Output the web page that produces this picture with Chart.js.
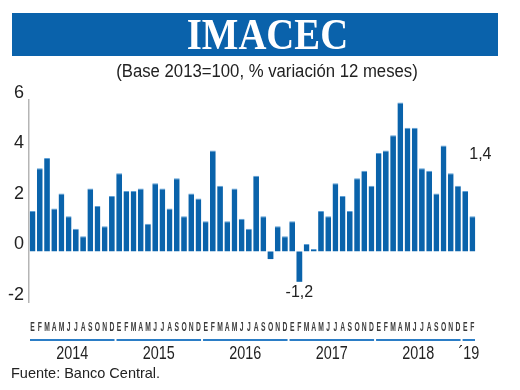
<!DOCTYPE html>
<html>
<head>
<meta charset="utf-8">
<script src="https://cdn.jsdelivr.net/npm/chart.js@4.4.1/dist/chart.umd.min.js"></script>
<style>
  html, body { margin: 0; padding: 0; background: #fff; }
  #wrap { position: relative; width: 520px; height: 390px; overflow: hidden; background: #fff; }
  #c { position: absolute; left: 0; top: 0; }
  #banner { position: absolute; left: 12px; top: 13px; width: 486px; height: 43px; background: #0a62ab; }
  #banner span { position: absolute; left: 0; width: 508px; top: -3px; text-align: center; color: #fff;
    font-family: "Liberation Serif", "DejaVu Serif", serif; font-weight: bold; font-size: 44px; line-height: 50px;
    transform: scaleX(0.88); transform-origin: 266px 0; }
  #sub { position: absolute; left: 0; width: 534px; top: 60px; text-align: center; color: #222;
    font-family: "Liberation Sans", Arial, sans-serif; font-size: 17.5px; line-height: 22px;
    transform: scaleX(0.955); transform-origin: 267px 0; }
  #src { position: absolute; left: 11px; top: 364px; color: #222;
    font-family: "Liberation Sans", Arial, sans-serif; font-size: 14.5px; line-height: 18px; }
</style>
</head>
<body>
<div id="wrap">
  <canvas id="c" width="520" height="390"></canvas>
  <div id="banner"><span>IMACEC</span></div>
  <div id="sub">(Base 2013=100, % variación 12 meses)</div>
  <div id="src">Fuente: Banco Central.</div>
</div>
<script>
const monthLetters = ['E','F','M','A','M','J','J','A','S','O','N','D'];
const yearLabels = ['2014','2015','2016','2017','2018','\u00B419'];
const monthsPerYear = [12, 12, 12, 12, 12, 2];
const values2014 = [1.6, 3.3, 3.7, 1.7, 2.3, 1.4, 0.9, 0.6, 2.5, 1.8, 1.0, 2.2];
const values2015 = [3.1, 2.4, 2.4, 2.5, 1.1, 2.7, 2.5, 1.7, 2.9, 1.4, 2.3, 2.1];
const values2016 = [1.2, 4.0, 2.6, 1.2, 2.5, 1.3, 0.9, 3.0, 1.4, -0.3, 1.0, 0.6];
const values2017 = [1.2, -1.2, 0.3, 0.1, 1.6, 1.4, 2.7, 2.2, 1.6, 2.9, 3.2, 2.6];
const values2018 = [3.9, 4.0, 4.6, 5.9, 4.9, 4.9, 3.3, 3.2, 2.3, 4.2, 3.1, 2.6];
const values2019 = [2.4, 1.4];
const yTicks = [-2, 0, 2, 4, 6];
const annotations = [ { index: 37, text: '-1,2', where: 'below' }, { index: 61, text: '1,4', where: 'above' } ];

const values = [].concat(values2014, values2015, values2016, values2017, values2018, values2019);
const labels = [];
monthsPerYear.forEach((n, yi) => { for (let m = 0; m < n; m++) labels.push(monthLetters[m] + ' ' + yearLabels[yi]); });

const decor = {
  id: 'decor',
  afterDraw(chart) {
    const ctx = chart.ctx;
    const xs = chart.scales.x;
    const meta = chart.getDatasetMeta(0);
    const half = (xs.getPixelForValue(1) - xs.getPixelForValue(0)) / 2;
    ctx.save();
    ctx.textAlign = 'center';
    ctx.textBaseline = 'middle';
    // month letters
    ctx.fillStyle = '#3a3a3a';
    ctx.font = 'bold 13.5px "Liberation Sans", Arial, sans-serif';
    labels.forEach((lab, i) => {
      const x = xs.getPixelForValue(i);
      ctx.save();
      ctx.translate(x, 327);
      ctx.scale(0.5, 1);
      ctx.fillText(lab.split(' ')[0], 0, 0);
      ctx.restore();
    });
    // year underlines and labels
    let start = 0;
    monthsPerYear.forEach((n, yi) => {
      const x0 = xs.getPixelForValue(start) - half + 1;
      const x1 = xs.getPixelForValue(start + n - 1) + half - 1;
      ctx.strokeStyle = '#2b7dc6';
      ctx.lineWidth = 2;
      ctx.beginPath();
      ctx.moveTo(x0, 340);
      ctx.lineTo(x1, 340);
      ctx.stroke();
      ctx.fillStyle = '#222';
      ctx.font = '18px "Liberation Sans", Arial, sans-serif';
      ctx.save();
      ctx.translate((x0 + x1) / 2, 354);
      ctx.scale(0.8, 1);
      ctx.fillText(yearLabels[yi], 0, 0);
      ctx.restore();
      start += n;
    });
    // value annotations
    ctx.font = '16px "Liberation Sans", Arial, sans-serif';
    ctx.fillStyle = '#222';
    annotations.forEach(a => {
      const bar = meta.data[a.index];
      if (a.where === 'below') {
        ctx.fillText(a.text, bar.x, bar.y + 11);
      } else {
        ctx.fillText(a.text, bar.x + 8, bar.y - 62);
      }
    });
    ctx.restore();
  }
};

new Chart(document.getElementById('c'), {
  type: 'bar',
  data: {
    labels: labels,
    datasets: [{
      data: values,
      backgroundColor: '#0a63ab',
      borderColor: '#5d9fd6',
      borderWidth: { top: 1, left: 0, right: 0, bottom: 0 },
      borderSkipped: 'start',
      barPercentage: 0.8,
      categoryPercentage: 1.0
    }]
  },
  options: {
    responsive: false,
    animation: false,
    devicePixelRatio: 1,
    layout: { padding: { left: 0, top: 100, right: 44, bottom: 88 } },
    plugins: { legend: { display: false }, tooltip: { enabled: false }, title: { display: false } },
    scales: {
      x: { display: false, offset: true, grid: { display: false } },
      y: {
        min: -2, max: 6,
        afterFit: s => { s.width = 29; },
        afterBuildTicks: s => { s.ticks = yTicks.map(v => ({ value: v })); },
        grid: { display: false, drawTicks: false },
        border: { display: true, color: '#b5b5b5', width: 1.5 },
        ticks: {
          padding: 5,
          labelOffset: -7,
          color: '#222',
          font: { family: '"Liberation Sans", Arial, sans-serif', size: 18 },
          callback: v => String(v)
        }
      }
    }
  },
  plugins: [decor]
});
</script>
</body>
</html>
